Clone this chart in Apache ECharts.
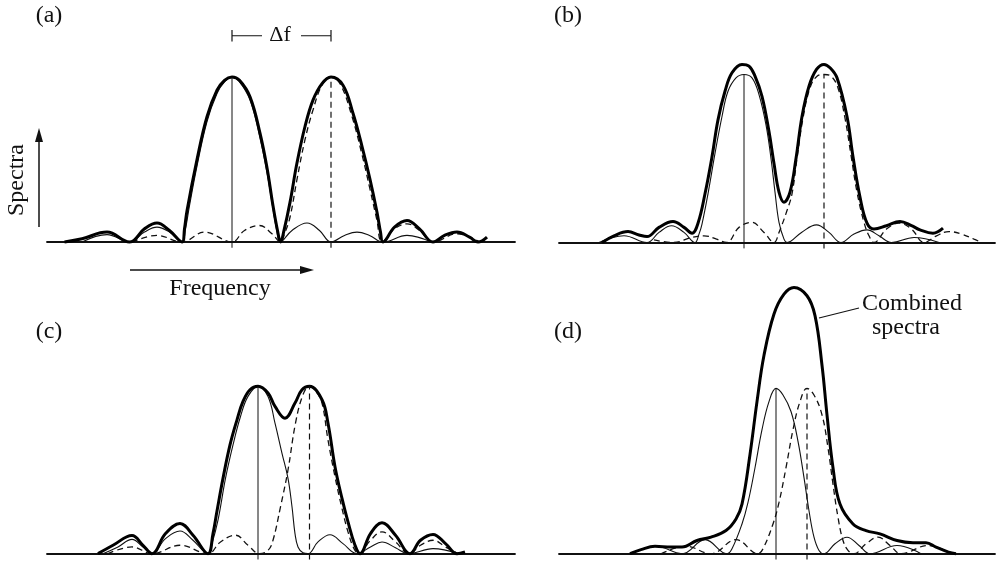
<!DOCTYPE html>
<html>
<head>
<meta charset="utf-8">
<script src="https://cdn.jsdelivr.net/npm/echarts@6/dist/echarts.min.js"></script>
<style>
  html, body { margin: 0; padding: 0; background: #fff; }
  #chart { width: 997px; height: 562px; }
</style>
</head>
<body>
<div id="chart"></div>
<script>
// frequency in units of the first null spacing, level relative to a single spectrum peak

// (a) peaks well apart
const aPeaks = [0, 1.98]
const aSingle1 = [[-3.0,0],[-2.5,0.045],[-2.05,0],[-1.75,0.06],[-1.5,0.09],[-1.25,0.06],[-1.0,0],[-0.93,0.08],[-0.85,0.22],[-0.7,0.46],[-0.5,0.73],[-0.3,0.9],[-0.15,0.97],[0,1],[0.15,0.97],[0.36,0.86],[0.56,0.63],[0.7,0.42],[0.82,0.2],[0.9,0.06],[0.96,0],[1.2,0.07],[1.5,0.115],[1.75,0.07],[1.98,0],[2.25,0.04],[2.5,0.06],[2.75,0.04],[3.02,0],[3.5,0.04],[3.98,0]]
const aSingle2 = [[-2.0,0],[-1.5,0.04],[-1.0,0],[-0.55,0.06],[0,0],[0.25,0.07],[0.55,0.1],[0.8,0.05],[0.97,0],[1.05,0.05],[1.16,0.15],[1.3,0.38],[1.46,0.62],[1.62,0.8],[1.8,0.95],[1.98,1],[2.16,0.96],[2.4,0.76],[2.6,0.53],[2.76,0.32],[2.9,0.13],[3.0,0],[3.25,0.08],[3.5,0.11],[3.75,0.07],[4.02,0],[4.5,0.05],[4.95,0]]
const aCombined = [[-3.35,0],[-3.0,0.02],[-2.5,0.06],[-2.05,0],[-1.75,0.08],[-1.5,0.115],[-1.25,0.07],[-1.0,0],[-0.95,0.08],[-0.9,0.19],[-0.7,0.5],[-0.5,0.76],[-0.3,0.92],[-0.15,0.98],[0,1],[0.15,0.98],[0.36,0.88],[0.56,0.66],[0.7,0.45],[0.82,0.22],[0.91,0.07],[0.97,0],[1.04,0.07],[1.16,0.24],[1.3,0.48],[1.46,0.7],[1.62,0.86],[1.8,0.96],[1.98,1],[2.22,0.95],[2.42,0.78],[2.6,0.58],[2.76,0.38],[2.9,0.18],[2.97,0.06],[3.02,0],[3.25,0.09],[3.5,0.13],[3.75,0.08],[4.02,0],[4.25,0.04],[4.5,0.06],[4.75,0.03],[4.92,0],[5.1,0.03]]

// (b) closer
const bPeaks = [0, 1.6]
const bSingle1 = [[-2.9,0],[-2.4,0.04],[-1.94,0],[-1.7,0.06],[-1.45,0.1],[-1.2,0.06],[-0.98,0],[-0.9,0.05],[-0.84,0.11],[-0.72,0.29],[-0.58,0.53],[-0.44,0.75],[-0.32,0.9],[-0.16,0.98],[0,1],[0.16,0.98],[0.3,0.88],[0.44,0.7],[0.54,0.5],[0.62,0.3],[0.7,0.12],[0.8,0.02],[0.86,0],[1.15,0.06],[1.45,0.105],[1.7,0.06],[1.94,0],[2.2,0.05],[2.46,0.075],[2.7,0.04],[2.95,0],[3.4,0.03],[3.9,0]]
const bSingle2 = [[-1.8,0.015],[-1.4,0],[-1.05,0.03],[-0.8,0.04],[-0.55,0.02],[-0.35,0],[-0.1,0.09],[0.15,0.12],[0.4,0.06],[0.6,0],[0.7,0.06],[0.86,0.19],[0.96,0.29],[1.06,0.5],[1.18,0.74],[1.32,0.92],[1.46,0.99],[1.6,1],[1.74,0.99],[1.88,0.92],[2.02,0.74],[2.14,0.52],[2.26,0.3],[2.4,0.12],[2.5,0.04],[2.6,0],[2.85,0.08],[3.1,0.115],[3.35,0.08],[3.6,0],[3.85,0.04],[4.1,0.065],[4.35,0.05],[4.6,0.02],[4.75,0]]
const bCombined = [[-2.84,0],[-2.6,0.04],[-2.32,0.065],[-2.1,0.045],[-1.94,0.035],[-1.7,0.09],[-1.42,0.125],[-1.2,0.09],[-1.04,0.055],[-0.92,0.115],[-0.78,0.29],[-0.64,0.51],[-0.52,0.73],[-0.38,0.9],[-0.24,1.01],[-0.04,1.06],[0.1,1.05],[0.22,0.99],[0.36,0.87],[0.5,0.66],[0.6,0.47],[0.7,0.3],[0.8,0.24],[0.92,0.3],[1.04,0.5],[1.16,0.75],[1.3,0.93],[1.45,1.03],[1.6,1.06],[1.72,1.04],[1.86,0.98],[2.06,0.75],[2.18,0.51],[2.32,0.27],[2.46,0.115],[2.6,0.08],[2.85,0.1],[3.12,0.125],[3.35,0.1],[3.52,0.075],[3.78,0.055],[3.98,0.085]]

// (c) one null apart
const cPeaks = [0, 1.03]
const cSingle1 = [[-3.1,0],[-2.8,0.04],[-2.52,0.085],[-2.3,0.04],[-2.12,0],[-1.85,0.09],[-1.56,0.135],[-1.3,0.08],[-1.0,0],[-0.92,0.06],[-0.8,0.2],[-0.65,0.45],[-0.5,0.65],[-0.35,0.82],[-0.2,0.94],[0,1],[0.2,0.94],[0.34,0.78],[0.48,0.6],[0.6,0.45],[0.68,0.28],[0.74,0.12],[0.8,0.04],[0.9,0.005],[1.0,0],[1.2,0.07],[1.44,0.113],[1.7,0.06],[1.98,0],[2.25,0.04],[2.48,0.07],[2.75,0.035],[3.0,0],[3.5,0.03],[4.0,0]]
const cSingle2 = [[-3.0,0],[-2.52,0.04],[-2.12,0],[-1.56,0.05],[-1.0,0],[-0.75,0.07],[-0.45,0.11],[-0.2,0.05],[0.03,0],[0.2,0.02],[0.3,0.08],[0.45,0.28],[0.6,0.5],[0.75,0.78],[0.9,0.95],[1.03,1],[1.16,0.97],[1.28,0.9],[1.4,0.68],[1.54,0.46],[1.68,0.27],[1.8,0.13],[1.92,0.03],[2.02,0],[2.25,0.08],[2.48,0.13],[2.75,0.07],[3.02,0],[3.25,0.05],[3.5,0.08],[3.75,0.04],[4.0,0]]
const cCombined = [[-3.2,0],[-2.9,0.05],[-2.52,0.108],[-2.3,0.05],[-2.12,0],[-1.85,0.12],[-1.56,0.18],[-1.3,0.11],[-1.0,0],[-0.9,0.12],[-0.82,0.255],[-0.7,0.45],[-0.56,0.65],[-0.42,0.8],[-0.3,0.91],[-0.16,0.98],[0,1],[0.2,0.96],[0.34,0.88],[0.54,0.81],[0.74,0.9],[0.88,0.98],[1.03,1],[1.28,0.92],[1.4,0.78],[1.54,0.52],[1.68,0.33],[1.8,0.19],[1.94,0.05],[2.04,0],[2.25,0.12],[2.48,0.184],[2.75,0.11],[3.04,0],[3.25,0.08],[3.5,0.115],[3.75,0.06],[3.98,0],[4.14,0.01]]

// (d) unresolved
const dPeaks = [0, 0.62]
const dSingle1 = [[-2.9,0],[-2.4,0.045],[-1.88,0],[-1.42,0.085],[-0.98,0],[-0.88,0.03],[-0.68,0.18],[-0.56,0.31],[-0.42,0.52],[-0.28,0.75],[-0.14,0.92],[0,1],[0.14,0.96],[0.3,0.86],[0.44,0.68],[0.56,0.46],[0.66,0.26],[0.76,0.1],[0.86,0.02],[0.96,0],[1.18,0.06],[1.42,0.1],[1.66,0.05],[1.88,0],[2.42,0.05],[2.9,0]]
const dSingle2 = [[-2.3,0],[-1.8,0.045],[-1.3,0],[-0.8,0.085],[-0.36,0],[-0.26,0.03],[-0.06,0.18],[0.06,0.31],[0.2,0.52],[0.34,0.75],[0.48,0.92],[0.62,1],[0.76,0.96],[0.92,0.84],[1.04,0.64],[1.14,0.42],[1.24,0.22],[1.34,0.08],[1.44,0.02],[1.56,0],[1.8,0.06],[2.04,0.1],[2.28,0.05],[2.5,0],[3.04,0.05],[3.5,0]]
const dCombined = [[-2.92,0],[-2.7,0.025],[-2.42,0.045],[-2.1,0.04],[-1.88,0.04],[-1.58,0.08],[-1.3,0.1],[-1.0,0.14],[-0.8,0.21],[-0.68,0.3],[-0.52,0.6],[-0.38,0.92],[-0.24,1.2],[-0.04,1.45],[0.16,1.57],[0.36,1.61],[0.62,1.56],[0.78,1.44],[0.92,1.14],[1.02,0.84],[1.14,0.52],[1.28,0.3],[1.54,0.18],[1.8,0.14],[2.08,0.12],[2.42,0.08],[2.74,0.067],[3.0,0.067],[3.2,0.04],[3.45,0.01],[3.6,0]]

const FONT = '"Liberation Serif", "DejaVu Serif", serif'

// panel frames: pixel box + axis ranges (50px per unit horizontally)
const panels = [
  { grid: { left: 47, top: 24.2, width: 468, height: 226.05 }, x: [-3.7, 5.66], y: [-0.05, 1.32], s1: aSingle1, s2: aSingle2, sum: aCombined, peaks: aPeaks },
  { grid: { left: 559, top: 57.7, width: 436, height: 193.2 }, x: [-3.7, 5.02], y: [-0.05, 1.1], s1: bSingle1, s2: bSingle2, sum: bCombined, peaks: bPeaks },
  { grid: { left: 47, top: 378, width: 468, height: 187 }, x: [-4.22, 5.14], y: [-0.05, 1.05], s1: cSingle1, s2: cSingle2, sum: cCombined, peaks: cPeaks },
  { grid: { left: 559, top: 272.6, width: 436, height: 292.25 }, x: [-4.34, 4.38], y: [-0.05, 1.7], s1: dSingle1, s2: dSingle2, sum: dCombined, peaks: dPeaks }
]

let grid = [], xAxis = [], yAxis = [], series = []
panels.forEach((p, i) => {
  grid.push(p.grid)
  xAxis.push({
    gridIndex: i, type: 'value', min: p.x[0], max: p.x[1],
    axisLine: { show: true, onZero: true, lineStyle: { color: '#111', width: 1.8 } },
    axisTick: { show: false }, axisLabel: { show: false }, splitLine: { show: false }
  })
  yAxis.push({ gridIndex: i, type: 'value', min: p.y[0], max: p.y[1], show: false, splitLine: { show: false } })
  const base = { type: 'line', xAxisIndex: i, yAxisIndex: i, symbol: 'none', smooth: 0.4, silent: true }
  series.push(Object.assign({}, base, { data: p.s1, lineStyle: { color: '#111', width: 1.1 } }))
  series.push(Object.assign({}, base, { data: p.s2, lineStyle: { color: '#111', width: 1.3, type: [6, 4] } }))
  series.push(Object.assign({}, base, { data: p.sum, lineStyle: { color: '#000', width: 3 }, z: 3 }))
  // centre lines of each spectrum, with a small tick under the baseline
  series.push(Object.assign({}, base, { smooth: false, data: [[p.peaks[0], -0.035], [p.peaks[0], 1]], lineStyle: { color: '#111', width: 1 } }))
  series.push(Object.assign({}, base, { smooth: false, data: [[p.peaks[1], -0.035], [p.peaks[1], 1]], lineStyle: { color: '#111', width: 1.2, type: [6, 4] } }))
})

// Δf bracket over panel (a)
const dfY = 1.25
series.push({ type: 'line', xAxisIndex: 0, yAxisIndex: 0, symbol: 'none', silent: true, lineStyle: { color: '#111', width: 1.2 },
  data: [[aPeaks[0], dfY + 0.035], [aPeaks[0], dfY - 0.035], [aPeaks[0], dfY], [0.6, dfY]] })
series.push({ type: 'line', xAxisIndex: 0, yAxisIndex: 0, symbol: 'none', silent: true, lineStyle: { color: '#111', width: 1.2 },
  data: [[1.38, dfY], [aPeaks[1], dfY], [aPeaks[1], dfY + 0.035], [aPeaks[1], dfY - 0.035]] })

const txt = (x, y, s, extra) => Object.assign({
  type: 'text', x: x, y: y,
  style: { text: s, fill: '#111', font: '24px ' + FONT, textAlign: 'center', textVerticalAlign: 'middle' }
}, extra || {})

const graphic = [
  txt(49, 16, '(a)'),
  txt(568, 16, '(b)'),
  txt(49, 332, '(c)'),
  txt(568, 332, '(d)'),
  txt(280, 35, 'Δf', { style: { text: 'Δf', fill: '#111', font: '22px ' + FONT, textAlign: 'center', textVerticalAlign: 'middle' } }),
  txt(220, 289, 'Frequency'),
  txt(17, 180, 'Spectra', { rotation: Math.PI / 2 }),
  txt(912, 304, 'Combined'),
  txt(906, 328, 'spectra'),
  // axis arrows
  { type: 'line', shape: { x1: 39, y1: 227, x2: 39, y2: 138 }, style: { stroke: '#111', lineWidth: 1.5 } },
  { type: 'polygon', shape: { points: [[39, 128], [35, 142], [43, 142]] }, style: { fill: '#111' } },
  { type: 'line', shape: { x1: 130, y1: 270, x2: 302, y2: 270 }, style: { stroke: '#111', lineWidth: 1.5 } },
  { type: 'polygon', shape: { points: [[314, 270], [300, 266], [300, 274]] }, style: { fill: '#111' } },
  // leader to the combined curve in (d)
  { type: 'line', shape: { x1: 819, y1: 318, x2: 859, y2: 308 }, style: { stroke: '#111', lineWidth: 1.2 } }
]

const chart = echarts.init(document.getElementById('chart'))
chart.setOption({
  animation: false,
  backgroundColor: '#fff',
  grid: grid,
  xAxis: xAxis,
  yAxis: yAxis,
  series: series,
  graphic: graphic
})
</script>
</body>
</html>
